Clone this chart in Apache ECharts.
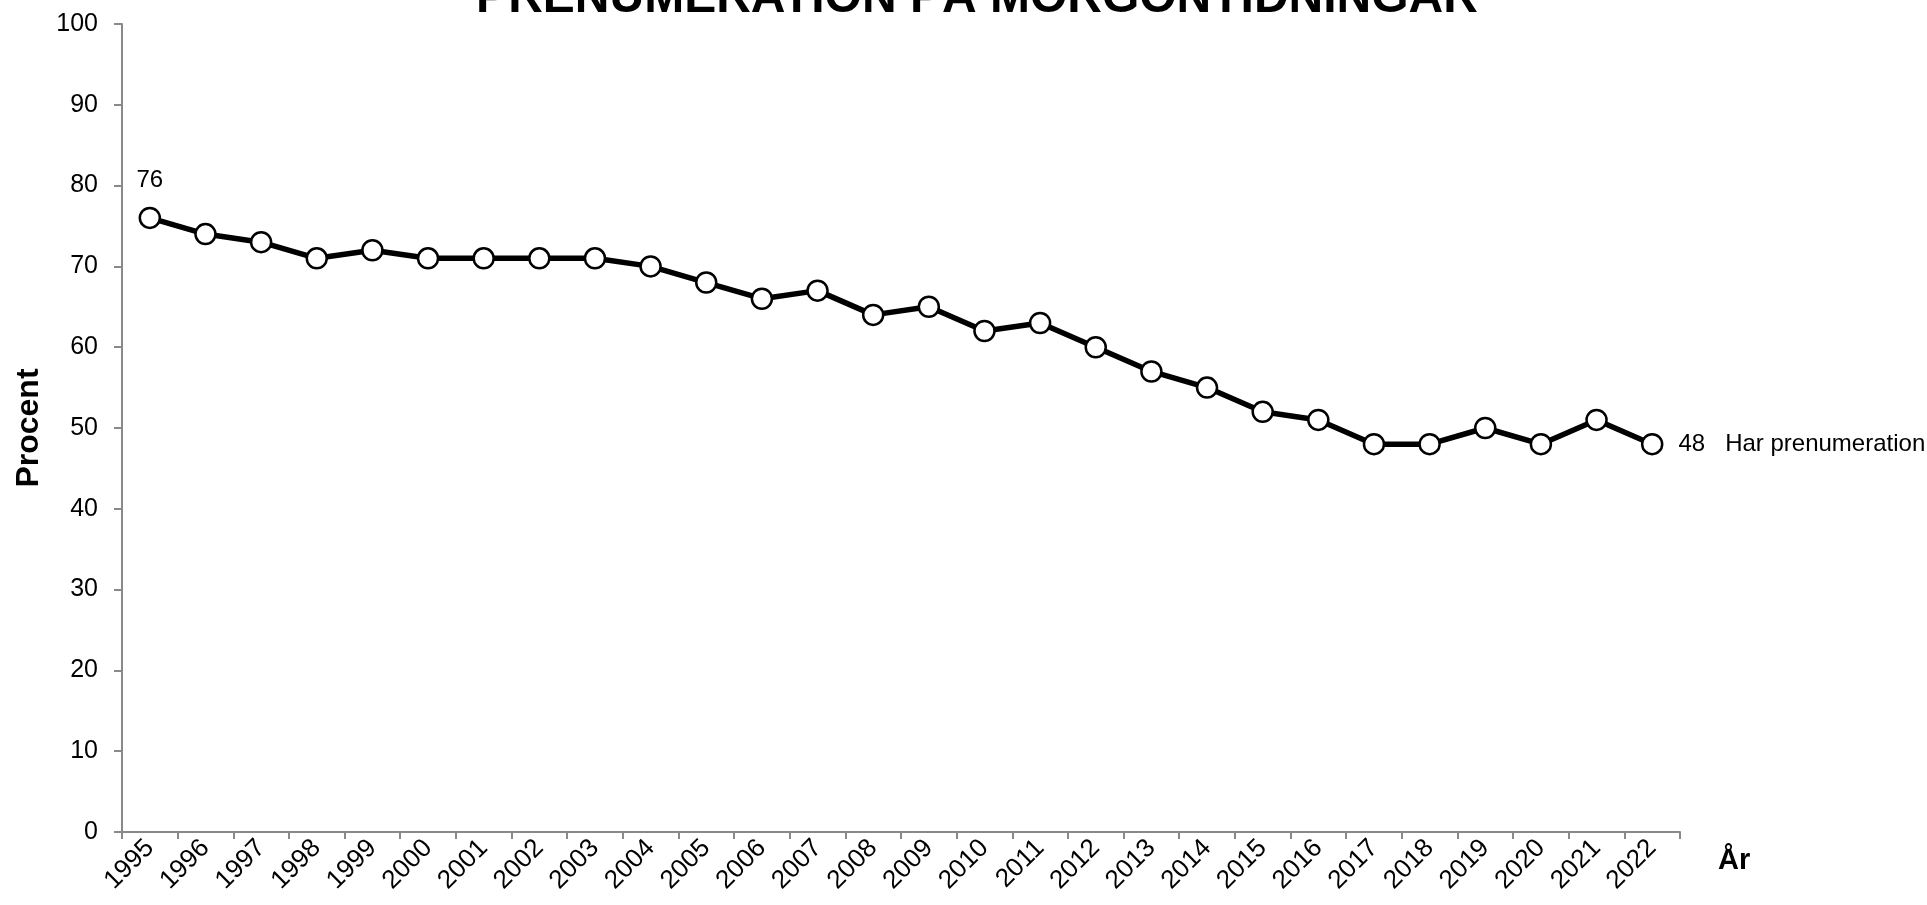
<!DOCTYPE html>
<html>
<head>
<meta charset="utf-8">
<script src="https://cdn.jsdelivr.net/npm/echarts@6/dist/echarts.min.js"></script>
<style>
  html, body { margin: 0; padding: 0; background: #fff; }
  #chart { width: 1927px; height: 905px; }
</style>
</head>
<body>
<div id="chart"></div>
<script>
// data
var years = ['1995', '1996', '1997', '1998', '1999', '2000', '2001', '2002', '2003', '2004',
  '2005', '2006', '2007', '2008', '2009', '2010', '2011', '2012', '2013', '2014',
  '2015', '2016', '2017', '2018', '2019', '2020', '2021', '2022']
var prenumeration = [76, 74, 73, 71, 72, 71, 71, 71, 71, 70,
  68, 66, 67, 64, 65, 62, 63, 60, 57, 55,
  52, 51, 48, 48, 50, 48, 51, 48]
var seriesName = 'Har prenumeration'

var axisColor = '#898989'
var font = 'Liberation Sans, Arial, sans-serif'

var chart = echarts.init(document.getElementById('chart'))
var last = prenumeration.length - 1

chart.setOption({
  animation: false,
  title: {
    text: 'PRENUMERATION PÅ MORGONTIDNINGAR',
    left: 972,
    top: -30,
    textAlign: 'center',
    textStyle: {fontFamily: font, fontSize: 48, fontWeight: 'bold', color: '#000'}
  },
  grid: {left: 122, right: 247, top: 24, bottom: 73},
  xAxis: {
    type: 'category',
    data: years,
    boundaryGap: true,
    name: 'År',
    nameLocation: 'end',
    nameGap: 38,
    nameTextStyle: {fontFamily: font, fontSize: 29, fontWeight: 'bold', color: '#000', verticalAlign: 'top', padding: [14, 0, 0, 0]},
    axisLine: {lineStyle: {color: axisColor, width: 2}},
    axisTick: {show: true, length: 7, alignWithLabel: false, lineStyle: {color: axisColor, width: 2}},
    axisLabel: {rotate: 45, margin: 12, fontFamily: font, fontSize: 26, color: '#000', interval: 0},
    splitLine: {show: false}
  },
  yAxis: {
    type: 'value',
    min: 0,
    max: 100,
    interval: 10,
    name: 'Procent',
    nameLocation: 'middle',
    nameGap: 77,
    nameTextStyle: {fontFamily: font, fontSize: 32, fontWeight: 'bold', color: '#000'},
    axisLine: {show: true, lineStyle: {color: axisColor, width: 2}},
    axisTick: {show: true, length: 8, lineStyle: {color: axisColor, width: 2}},
    axisLabel: {margin: 24, fontFamily: font, fontSize: 25, color: '#000'},
    splitLine: {show: false}
  },
  series: [{
    name: seriesName,
    type: 'line',
    data: prenumeration,
    symbol: 'circle',
    symbolSize: 20,
    lineStyle: {color: '#000', width: 5.5},
    itemStyle: {color: '#fff', borderColor: '#000', borderWidth: 2.5},
    label: {
      show: true,
      fontFamily: font,
      fontSize: 24,
      color: '#000',
      formatter: function (p) {
        if (p.dataIndex === 0) return p.value
        if (p.dataIndex === last) return p.value + '   ' + seriesName
        return ''
      },
      position: 'top',
      distance: 14
    },
    labelLayout: function (p) {
      if (p.dataIndex === last) {
        return {x: p.rect.x + p.rect.width + 15, y: p.rect.y + p.rect.height / 2, align: 'left', verticalAlign: 'middle'}
      }
    }
  }]
})
</script>
</body>
</html>
